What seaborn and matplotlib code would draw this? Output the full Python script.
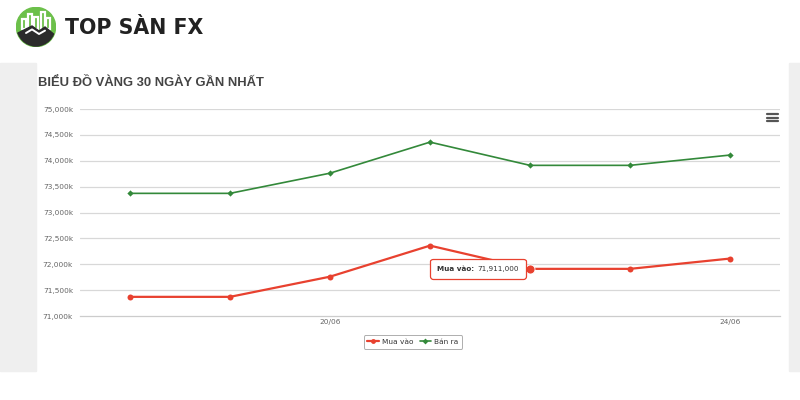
import matplotlib
matplotlib.use("Agg")
import matplotlib.pyplot as plt
import matplotlib.patches as mpatches
from matplotlib.lines import Line2D
from matplotlib.offsetbox import TextArea, HPacker, AnnotationBbox
import seaborn as sns
import pandas as pd

# ---- data ----
dates = ["18/06", "19/06", "20/06", "21/06", "22/06", "23/06", "24/06"]
mua_vao = [71370, 71370, 71760, 72360, 71911, 71911, 72110]   # thousand VND
ban_ra = [73370, 73370, 73760, 74360, 73911, 73911, 74110]
y_ticks = [71000, 71500, 72000, 72500, 73000, 73500, 74000, 74500, 75000]
x_label_idx = [2, 6]
hover_idx = 4
series_names = ["Mua vào", "Bán ra"]
title = "BIỂU ĐỒ VÀNG 30 NGÀY GẦN NHẤT"
brand = "TOP SÀN FX"

RED = "#e8412f"
GREEN = "#33893a"
GRID = "#d8d8d8"
TXT = "#666666"

sns.set_theme(style="white")
plt.rcParams["font.family"] = ["DejaVu Sans"]

fig = plt.figure(figsize=(8, 4), dpi=100)
fig.patch.set_facecolor("white")

W, H = 800, 400
def fx(px): return px / W
def fy(py): return 1 - py / H

# side gray strips
fig.patches.append(mpatches.Rectangle((0, fy(371)), fx(36), (371 - 63) / H,
                                      transform=fig.transFigure, color="#efefef", zorder=-5))
fig.patches.append(mpatches.Rectangle((fx(789), fy(371)), fx(11), (371 - 63) / H,
                                      transform=fig.transFigure, color="#efefef", zorder=-5))

# ---- logo ----
lax = fig.add_axes([fx(16), fy(47), fx(40), 40 / H])
lax.set_xlim(-1, 1); lax.set_ylim(-1, 1); lax.set_aspect("equal"); lax.axis("off")
circ = mpatches.Circle((0, 0), 0.98, color="#6cc04a")
lax.add_patch(circ)
for bx, bh in [(-0.62, 0.25), (-0.3, 0.5), (0.02, 0.35), (0.34, 0.6), (0.62, 0.3)]:
    r = mpatches.Rectangle((bx - 0.1, -0.1), 0.2, bh + 0.25, facecolor="none",
                           edgecolor="white", lw=1.6)
    lax.add_patch(r)
    r.set_clip_path(circ)
mountain = mpatches.Polygon([(-1, -0.35), (-0.5, -0.1), (-0.2, 0.05), (0.15, -0.2),
                             (0.45, 0.0), (1, -0.45), (1, -1), (-1, -1)],
                            closed=True, color="#2b2b2b")
lax.add_patch(mountain)
mountain.set_clip_path(circ)
snow = Line2D([-0.5, -0.2, 0.15, 0.45], [-0.3, -0.12, -0.35, -0.18], color="white", lw=1.4)
lax.add_line(snow)
snow.set_clip_path(circ)

fig.text(fx(65), fy(28), brand, fontsize=14.8, fontweight="bold", color="#222222",
         va="center", ha="left")

# ---- title ----
fig.text(fx(38), fy(83), title, fontsize=9.4, fontweight="bold", color="#444444",
         va="center", ha="left", family=["Liberation Sans", "DejaVu Sans"])

# ---- chart ----
ax = fig.add_axes([fx(80), fy(316), fx(700), 207 / H])
x = list(range(len(dates)))
df = pd.DataFrame({"x": x, "mua": mua_vao, "ban": ban_ra})

for yv in y_ticks[1:]:
    ax.axhline(yv, color=GRID, lw=0.9, zorder=0)

sns.lineplot(data=df, x="x", y="ban", ax=ax, color=GREEN, lw=1.2, marker="D",
             markersize=3.2, markeredgewidth=0, zorder=3)
sns.lineplot(data=df, x="x", y="mua", ax=ax, color=RED, lw=1.6, marker="o",
             markersize=4.3, markeredgewidth=0, zorder=4)
# hovered point
ax.plot([hover_idx], [mua_vao[hover_idx]], marker="o", markersize=6.5, color=RED,
        markeredgecolor="white", markeredgewidth=0.6, zorder=6, linestyle="none")

ax.set_xlim(-0.5, len(dates) - 0.5)
ax.set_ylim(y_ticks[0], y_ticks[-1])
ax.set_xlabel(""); ax.set_ylabel("")
ax.set_yticks(y_ticks)
ax.set_yticklabels([f"{v:,}k" for v in y_ticks], fontsize=5.3, color=TXT)
ax.set_xticks(x_label_idx)
ax.set_xticklabels([dates[i] for i in x_label_idx], fontsize=5.3, color=TXT)
ax.set_xticks([i - 0.5 for i in range(1, len(dates) + 1)], minor=True)
ax.tick_params(axis="x", which="major", length=0, pad=2)
ax.tick_params(axis="x", which="minor", length=4, color="#cccccc", width=0.8, direction="out")
ax.tick_params(axis="y", length=0, pad=5)
for s in ["top", "right", "left"]:
    ax.spines[s].set_visible(False)
ax.spines["bottom"].set_color("#cccccc")
ax.spines["bottom"].set_linewidth(0.9)
ax.set_facecolor("none")

# tooltip
ta1 = TextArea(series_names[0] + ":", textprops=dict(fontsize=5.2, fontweight="bold", color="#333333"))
ta2 = TextArea(f"{mua_vao[hover_idx] * 1000:,}", textprops=dict(fontsize=5.2, color="#333333"))
pack = HPacker(children=[ta1, ta2], align="baseline", pad=0, sep=2)
ab = AnnotationBbox(pack, (hover_idx, mua_vao[hover_idx]), xybox=(-52, 0),
                    xycoords="data", boxcoords="offset pixels", frameon=True,
                    box_alignment=(0.5, 0.5), pad=0.45,
                    bboxprops=dict(edgecolor=RED, facecolor="white", lw=0.9,
                                   boxstyle="round,pad=0.45,rounding_size=0.15"))
ax.add_artist(ab)
ab.set_zorder(7)

# menu icon
for yy in [114, 117.5, 121]:
    fig.add_artist(Line2D([fx(767), fx(778)], [fy(yy), fy(yy)], color="#555555", lw=1.6,
                          transform=fig.transFigure))

# legend
handles = [Line2D([0], [0], color=RED, lw=1.6, marker="o", markersize=3.5, markeredgewidth=0),
           Line2D([0], [0], color=GREEN, lw=1.2, marker="D", markersize=3, markeredgewidth=0)]
leg = fig.legend(handles, series_names, loc="center", bbox_to_anchor=(fx(413), fy(342)),
                 ncol=2, fontsize=5.3, frameon=True, handlelength=1.6, columnspacing=0.8,
                 handletextpad=0.4, borderpad=0.5, fancybox=True)
leg.get_frame().set_edgecolor("#999999")
leg.get_frame().set_linewidth(0.7)
for t in leg.get_texts():
    t.set_color("#333333")

fig.savefig("out.png", dpi=100, facecolor="white")
